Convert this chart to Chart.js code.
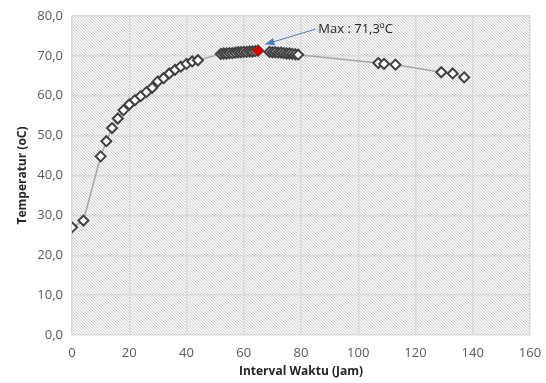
<!DOCTYPE html>
<html>
<head>
<meta charset="utf-8">
<script src="https://cdn.jsdelivr.net/npm/chart.js@4"></script>
<style>
    html, body { margin: 0; padding: 0; background: #fff; }
    #wrap { width: 546px; height: 383px; }
</style>
</head>
<body>
<div id="wrap"><canvas id="tempChart"></canvas></div>
<script>
const hours = [0, 4, 10, 12, 14, 16, 18, 20, 22, 24, 26, 28, 30, 32, 34, 36, 38, 40, 42, 44,
    52, 53, 54, 55, 56, 57, 58, 59, 60, 61, 62, 63, 64, 65,
    69, 70, 71, 72, 73, 74, 75, 76, 77, 78, 79,
    107, 109, 113, 129, 133, 137];
const temps = [27.0, 28.7, 44.8, 48.6, 51.9, 54.3, 56.4, 57.8, 58.9, 59.9, 60.9, 62.0, 63.6, 64.4, 65.6, 66.5, 67.3, 68.0, 68.6, 68.9,
    70.5, 70.6, 70.6, 70.7, 70.7, 70.8, 70.9, 70.9, 71.0, 71.0, 71.1, 71.1, 71.2, 71.3,
    71.0, 70.9, 70.9, 70.8, 70.8, 70.7, 70.6, 70.6, 70.5, 70.4, 70.3,
    68.2, 68.0, 67.8, 65.9, 65.6, 64.6];
const maxHour = [65];
const maxTemp = [71.3];
const xTicks = [0, 20, 40, 60, 80, 100, 120, 140, 160];
const yTicks = [0, 10, 20, 30, 40, 50, 60, 70, 80];
const maxLabel = 'Max : 71,3ºC';

const FONT = "'Open Sans', 'Liberation Sans', sans-serif";

// hatched background like the excel pattern fill
const hatchPlugin = {
    id: 'hatch',
    beforeDraw(chart) {
        const { ctx, chartArea } = chart;
        const { left, top, right, bottom } = chartArea;
        ctx.save();
        ctx.beginPath();
        ctx.rect(left, top, right - left, bottom - top);
        ctx.clip();
        ctx.fillStyle = '#f7f7f7';
        ctx.fillRect(left, top, right - left, bottom - top);
        ctx.strokeStyle = '#cfcfcf';
        ctx.lineWidth = 1;
        ctx.beginPath();
        const h = bottom - top;
        for (let x = left - h; x < right; x += 3) {
            ctx.moveTo(x, top);
            ctx.lineTo(x + h, bottom);
        }
        ctx.stroke();
        ctx.restore();
    }
};

const maxNotePlugin = {
    id: 'maxNote',
    afterDraw(chart) {
        const { ctx } = chart;
        const x = chart.scales.x, y = chart.scales.y;
        const hx = x.getPixelForValue(maxHour[0] + 2.5), hy = y.getPixelForValue(maxTemp[0] + 1.6);
        const tx = x.getPixelForValue(maxHour[0] + 20), ty = y.getPixelForValue(maxTemp[0] + 5.4);
        ctx.save();
        ctx.strokeStyle = '#4a7cc4';
        ctx.fillStyle = '#4a7cc4';
        ctx.lineWidth = 1;
        ctx.beginPath();
        ctx.moveTo(tx, ty);
        ctx.lineTo(hx, hy);
        ctx.stroke();
        const ang = Math.atan2(hy - ty, hx - tx);
        ctx.beginPath();
        ctx.moveTo(hx, hy);
        ctx.lineTo(hx - 10 * Math.cos(ang - 0.4), hy - 10 * Math.sin(ang - 0.4));
        ctx.lineTo(hx - 10 * Math.cos(ang + 0.4), hy - 10 * Math.sin(ang + 0.4));
        ctx.closePath();
        ctx.fill();
        ctx.fillStyle = '#262626';
        ctx.font = '13px ' + FONT;
        ctx.textBaseline = 'middle';
        ctx.fillText(maxLabel, tx + 3, ty);
        ctx.restore();
    }
};

const points = hours.map((h, i) => ({ x: h, y: temps[i] }));
const maxPoint = maxHour.map((h, i) => ({ x: h, y: maxTemp[i] }));

new Chart(document.getElementById('tempChart'), {
    type: 'scatter',
    data: {
        datasets: [{
            label: 'Temperatur',
            data: points,
            showLine: true,
            borderColor: '#a6a6a6',
            borderWidth: 1.5,
            pointStyle: 'rectRot',
            pointRadius: 5,
            pointBorderWidth: 2,
            pointBorderColor: '#404040',
            pointBackgroundColor: '#ffffff',
            order: 2
        }, {
            label: 'Max',
            data: maxPoint,
            pointStyle: 'rectRot',
            pointRadius: 5,
            pointBorderWidth: 1,
            pointBorderColor: '#e00000',
            pointBackgroundColor: '#e00000',
            order: 1
        }]
    },
    options: {
        responsive: true,
        maintainAspectRatio: false,
        animation: false,
        layout: { padding: { top: 16, right: 16, left: 0, bottom: 0 } },
        plugins: {
            legend: { display: false },
            tooltip: { enabled: false }
        },
        scales: {
            x: {
                type: 'linear',
                min: 0, max: 160,
                afterBuildTicks: s => { s.ticks = xTicks.map(v => ({ value: v })); },
                afterFit: s => { s.height = 48; s.paddingLeft = 0; s.paddingRight = 0; },
                grid: { color: '#d9d9d9', lineWidth: 1.5, drawTicks: false },
                border: { display: false },
                ticks: { color: '#595959', font: { family: FONT, size: 13 }, padding: 10 },
                title: {
                    display: true, text: 'Interval Waktu (Jam)', color: '#262626',
                    font: { family: FONT, size: 12, weight: 'bold' }, padding: { top: 2 }
                }
            },
            y: {
                min: 0, max: 80,
                afterBuildTicks: s => { s.ticks = yTicks.map(v => ({ value: v })); },
                afterFit: s => { s.width = 72; s.paddingTop = 0; s.paddingBottom = 0; },
                grid: { color: '#d9d9d9', lineWidth: 1.5, drawTicks: false },
                border: { display: false },
                ticks: {
                    color: '#595959', font: { family: FONT, size: 13 }, padding: 9,
                    callback: v => v.toFixed(1).replace('.', ',')
                },
                title: {
                    display: true, text: 'Temperatur (oC)', color: '#262626',
                    font: { family: FONT, size: 12, weight: 'bold' }, padding: { top: 15, bottom: 2 }
                }
            }
        }
    },
    plugins: [hatchPlugin, maxNotePlugin]
});
</script>
</body>
</html>
